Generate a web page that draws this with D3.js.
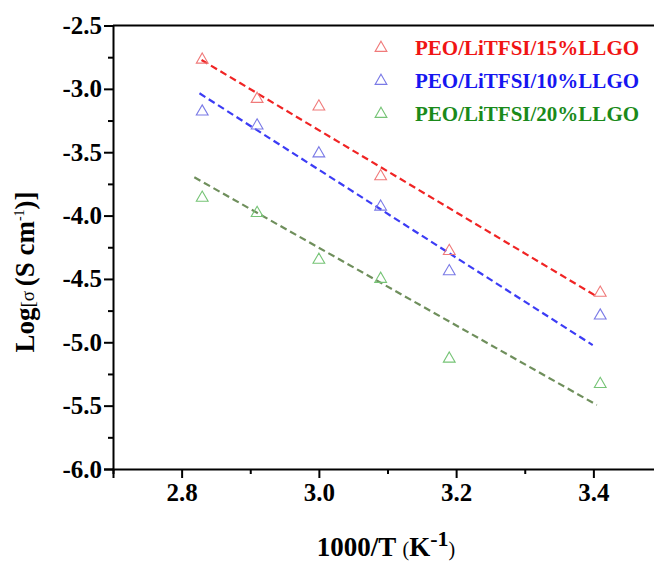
<!DOCTYPE html>
<html>
<head>
<meta charset="utf-8">
<script src="https://cdn.jsdelivr.net/npm/d3@7"></script>
<style>
  html, body { margin: 0; padding: 0; background: #fff; }
  svg { display: block; }
  text { font-family: "Liberation Serif", "Times New Roman", serif; }
</style>
</head>
<body>
<script>
// ---- data ----
const xValues = [2.83, 2.91, 3.00, 3.09, 3.19, 3.41];
const seriesNames = ["PEO/LiTFSI/15%LLGO", "PEO/LiTFSI/10%LLGO", "PEO/LiTFSI/20%LLGO"];
const red15 = [-2.77, -3.08, -3.14, -3.69, -4.28, -4.61];
const blue10 = [-3.18, -3.29, -3.51, -3.93, -4.44, -4.79];
const green20 = [-3.86, -3.98, -4.35, -4.50, -5.13, -5.33];
const fitRedX = [2.829, 3.404], fitRedY = [-2.772, -4.635];
const fitBlueX = [2.826, 3.399], fitBlueY = [-3.035, -5.022];
const fitGreenX = [2.8185, 3.405], fitGreenY = [-3.698, -5.495];
const xTicks = [2.8, 3.0, 3.2, 3.4];
const yTicks = [-2.5, -3.0, -3.5, -4.0, -4.5, -5.0, -5.5, -6.0];

const markerColors = ["#f07a7a", "#7a7ae6", "#76c476"];
const lineColors = ["#f02424", "#3c3cf5", "#6f8f5c"];
const textColors = ["#f01414", "#1616f0", "#1a8a1a"];

const W = 654, H = 563;
const FONT = "'Liberation Serif', 'Times New Roman', serif";
const svg = d3.select("body").append("svg").attr("width", W).attr("height", H);

const x = d3.scaleLinear().domain([2.7, 3.5]).range([113, 662]);
const y = d3.scaleLinear().domain([-6.0, -2.5]).range([469, 25.5]);

const fmt = d => d.toFixed(1);
const xAxis = d3.axisBottom(x).tickValues(xTicks).tickFormat(fmt).tickSize(9).tickPadding(5);
const xMinorVals = d3.range(27, 36).map(v => v / 10).filter(v => !xTicks.some(t => Math.abs(t - v) < 1e-6));
const xMinor = d3.axisBottom(x).tickValues(xMinorVals).tickFormat("").tickSize(5);
const yAxis = d3.axisLeft(y).tickValues(yTicks).tickFormat(fmt).tickSize(9).tickPadding(2);
const yMinor = d3.axisLeft(y).tickValues(d3.range(-5.75, -2.5, 0.5)).tickFormat("").tickSize(5);

function styleAxis(g) {
  g.attr("font-family", FONT).attr("font-size", 25).attr("font-weight", "bold");
  g.select(".domain").attr("stroke", "#000").attr("stroke-width", 2);
  g.selectAll(".tick line").attr("stroke", "#000").attr("stroke-width", 2);
  g.selectAll(".tick text").attr("fill", "#000")
    .attr("font-family", FONT).attr("font-size", 25).attr("font-weight", "bold");
}

svg.append("g").attr("transform", `translate(0,${y(-6.0)})`).call(xMinor).call(styleAxis).select(".domain").remove();
svg.append("g").attr("transform", `translate(0,${y(-6.0)})`).call(xAxis).call(styleAxis);
svg.append("g").attr("transform", `translate(${x(2.7)},0)`).call(yMinor).call(styleAxis).select(".domain").remove();
svg.append("g").attr("transform", `translate(${x(2.7)},0)`).call(yAxis).call(styleAxis);
svg.append("line").attr("x1", x(2.7)).attr("x2", x(3.5)).attr("y1", y(-2.5)).attr("y2", y(-2.5))
  .attr("stroke", "#000").attr("stroke-width", 2);
svg.append("line").attr("x1", x(3.5)).attr("x2", x(3.5)).attr("y1", y(-2.5)).attr("y2", y(-6.0))
  .attr("stroke", "#000").attr("stroke-width", 2);

// fit lines
const fits = [[fitRedX, fitRedY], [fitBlueX, fitBlueY], [fitGreenX, fitGreenY]];
fits.forEach(([fx, fy], i) => {
  svg.append("line")
    .attr("x1", x(fx[0])).attr("y1", y(fy[0]))
    .attr("x2", x(fx[1])).attr("y2", y(fy[1]))
    .attr("stroke", lineColors[i]).attr("stroke-width", 2.2)
    .attr("stroke-dasharray", "7,4");
});

// markers
const tri = d3.symbol().type(d3.symbolTriangle).size(60);
const series = [red15, blue10, green20];
series.forEach((vals, i) => {
  svg.append("g").selectAll("path").data(vals).join("path")
    .attr("d", tri)
    .attr("transform", (d, j) => `translate(${x(xValues[j])},${y(d)})`)
    .attr("fill", "none").attr("stroke", markerColors[i]).attr("stroke-width", 1.1);
});

// legend
const legY = [48, 81, 114];
seriesNames.forEach((name, i) => {
  svg.append("path").attr("d", tri).attr("transform", `translate(381,${legY[i]})`)
    .attr("fill", "none").attr("stroke", markerColors[i]).attr("stroke-width", 1.1);
  svg.append("text").attr("x", 415).attr("y", legY[i]).attr("dy", "0.35em")
    .attr("fill", textColors[i]).attr("font-family", FONT)
    .attr("font-size", 21).attr("font-weight", "bold").text(name);
});

// x axis label
const xl = svg.append("text").attr("x", 386).attr("y", 556).attr("text-anchor", "middle")
  .attr("fill", "#000").attr("font-family", FONT).attr("font-weight", "bold").attr("font-size", 27);
xl.append("tspan").text("1000/T ");
xl.append("tspan").attr("font-weight", "normal").attr("font-size", 20).text("(");
xl.append("tspan").text("K");
xl.append("tspan").attr("dy", -10).attr("font-size", 22).text("-1");
xl.append("tspan").attr("dy", 10).attr("font-weight", "normal").attr("font-size", 20).text(")");

// y axis label
const yl = svg.append("text").attr("transform", "translate(34,272) rotate(-90)").attr("text-anchor", "middle")
  .attr("fill", "#000").attr("font-family", FONT).attr("font-weight", "bold").attr("font-size", 27);
yl.append("tspan").text("Log");
yl.append("tspan").attr("font-weight", "normal").attr("font-size", 19).text("[σ ");
yl.append("tspan").text("(S cm");
yl.append("tspan").attr("dy", -10).attr("font-size", 14).attr("font-weight", "normal").text("-1");
yl.append("tspan").attr("dy", 10).text(")]");
</script>
</body>
</html>
